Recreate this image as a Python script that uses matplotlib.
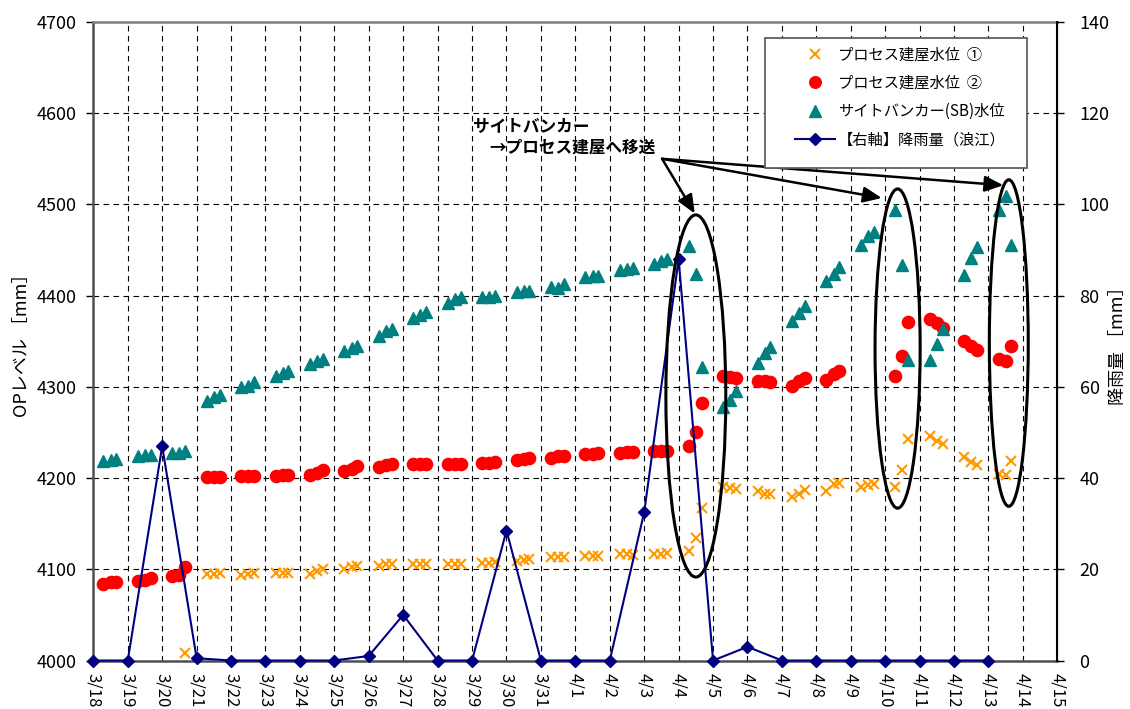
import numpy as np
import matplotlib
matplotlib.use('Agg')
import matplotlib.pyplot as plt
from matplotlib.patches import Ellipse, Rectangle

plt.rcParams['font.family'] = ['Noto Sans CJK JP', 'DejaVu Sans']

nan = np.nan

# x axis: one tick per day, 3/18 .. 4/15
DATES = ['3/18', '3/19', '3/20', '3/21', '3/22', '3/23', '3/24', '3/25',
         '3/26', '3/27', '3/28', '3/29', '3/30', '3/31', '4/1', '4/2',
         '4/3', '4/4', '4/5', '4/6', '4/7', '4/8', '4/9', '4/10', '4/11',
         '4/12', '4/13', '4/14', '4/15']

# three readings a day (hour of day), 3/18 .. 4/13
READ_HOURS = [7, 12, 16]

# プロセス建屋水位 ① [mm]
LEVEL_1 = [
    nan, nan, nan,     # 3/18
    nan, nan, nan,     # 3/19
    nan, nan, 4008,    # 3/20
    4095, 4095, 4096,  # 3/21
    4094, 4095, 4096,  # 3/22
    4096, 4096, 4096,  # 3/23
    4095, 4098, 4100,  # 3/24
    4100, 4102, 4104,  # 3/25
    4104, 4106, 4106,  # 3/26
    4106, 4106, 4106,  # 3/27
    4106, 4106, 4106,  # 3/28
    4107, 4107, 4108,  # 3/29
    4109, 4110, 4111,  # 3/30
    4113, 4114, 4114,  # 3/31
    4115, 4115, 4115,  # 4/1
    4117, 4117, 4116,  # 4/2
    4117, 4117, 4118,  # 4/3
    4120, 4134, 4167,  # 4/4
    4190, 4189, 4188,  # 4/5
    4186, 4183, 4182,  # 4/6
    4179, 4183, 4187,  # 4/7
    4186, 4193, 4195,  # 4/8
    4190, 4192, 4193,  # 4/9
    4190, 4209, 4243,  # 4/10
    4246, 4241, 4237,  # 4/11
    4223, 4218, 4214,  # 4/12
    4205, 4203, 4219,  # 4/13
]

# プロセス建屋水位 ② [mm]
LEVEL_2 = [
    4084, 4086, 4086,  # 3/18
    4087, 4088, 4090,  # 3/19
    4093, 4094, 4103,  # 3/20
    4201, 4201, 4201,  # 3/21
    4202, 4202, 4202,  # 3/22
    4202, 4203, 4203,  # 3/23
    4203, 4206, 4209,  # 3/24
    4208, 4210, 4213,  # 3/25
    4212, 4214, 4215,  # 3/26
    4215, 4215, 4215,  # 3/27
    4215, 4215, 4215,  # 3/28
    4216, 4217, 4218,  # 3/29
    4220, 4221, 4222,  # 3/30
    4222, 4224, 4224,  # 3/31
    4226, 4226, 4227,  # 4/1
    4228, 4229, 4229,  # 4/2
    4230, 4230, 4230,  # 4/3
    4235, 4250, 4282,  # 4/4
    4312, 4311, 4310,  # 4/5
    4306, 4306, 4305,  # 4/6
    4301, 4306, 4310,  # 4/7
    4307, 4314, 4317,  # 4/8
    nan, nan, nan,     # 4/9
    4312, 4334, 4371,  # 4/10
    4374, 4370, 4365,  # 4/11
    4350, 4345, 4340,  # 4/12
    4331, 4328, 4345,  # 4/13
]

# サイトバンカー(SB)水位 [mm]
LEVEL_SB = [
    4219, 4220, 4221,  # 3/18
    4224, 4225, 4225,  # 3/19
    4227, 4228, 4230,  # 3/20
    4285, 4289, 4291,  # 3/21
    4300, 4301, 4305,  # 3/22
    4312, 4315, 4317,  # 3/23
    4325, 4328, 4330,  # 3/24
    4339, 4343, 4345,  # 3/25
    4356, 4361, 4363,  # 3/26
    4375, 4379, 4382,  # 3/27
    4392, 4396, 4398,  # 3/28
    4399, 4399, 4400,  # 3/29
    4404, 4405, 4405,  # 3/30
    4410, 4408, 4413,  # 3/31
    4420, 4422, 4422,  # 4/1
    4428, 4429, 4430,  # 4/2
    4435, 4438, 4440,  # 4/3
    4454, 4424, 4322,  # 4/4
    4278, 4286, 4295,  # 4/5
    4326, 4337, 4344,  # 4/6
    4372, 4381, 4389,  # 4/7
    4416, 4424, 4431,  # 4/8
    4456, 4465, 4470,  # 4/9
    4494, 4434, 4329,  # 4/10
    4329, 4347, 4363,  # 4/11
    4423, 4441, 4453,  # 4/12
    4494, 4509, 4456,  # 4/13
]

# 降雨量（浪江） daily [mm], 3/18 .. 4/13
RAIN = [0, 0, 47, 0.5, 0, 0, 0, 0, 1, 10, 0, 0, 28.5, 0,
        0, 0, 32.5, 88, 0, 3, 0, 0, 0, 0, 0, 0, 0]

LABELS = ['プロセス建屋水位  ①', 'プロセス建屋水位  ②',
          'サイトバンカー(SB)水位', '【右軸】降雨量（浪江）']

# transfer events SB -> process building: (center day, center level, width, height)
TRANSFERS = [(17.5, 4290, 1.74, 397), (23.36, 4342, 1.31, 350), (26.59, 4348, 1.13, 358)]
ARROW_FROM = (16.52, 4550)
ARROW_TO = [(17.47, 4490), (22.9, 4507), (26.43, 4521)]

ORANGE = '#FF9900'
RED = '#FF0000'
TEAL = '#008080'
NAVY = '#000080'

n_days = len(LEVEL_1) // len(READ_HOURS)
t = np.repeat(np.arange(n_days), len(READ_HOURS)) + np.tile(READ_HOURS, n_days) / 24.0

fig = plt.figure(figsize=(11.3, 7.09), dpi=100)
ax = fig.add_axes([0.0826, 0.0684, 0.8531, 0.9006])
ax2 = ax.twinx()

h1, = ax.plot(t, LEVEL_1, linestyle='none', marker='x', color=ORANGE, markersize=7.5, markeredgewidth=1.5)
h2, = ax.plot(t, LEVEL_2, linestyle='none', marker='o', color=RED, markersize=8.8)
h3, = ax.plot(t, LEVEL_SB, linestyle='none', marker='^', color=TEAL, markersize=8.5)
h4, = ax2.plot(np.arange(len(RAIN)), RAIN, color=NAVY, linewidth=1.5, marker='D', markersize=6, clip_on=False, zorder=5)

ax.set_xlim(0, len(DATES) - 1)
ax.set_ylim(4000, 4700)
ax2.set_ylim(0, 140)
ax.set_xticks(np.arange(len(DATES)))
ax.set_xticklabels(DATES, rotation=-90, fontsize=12)
ax.set_yticks(np.arange(4000, 4701, 100))
ax2.set_yticks(np.arange(0, 141, 20))
ax.tick_params(axis='x', length=0, pad=9)
ax.tick_params(axis='y', length=5, width=1, pad=7, labelsize=13)
ax2.tick_params(axis='y', length=5, width=1, pad=11, labelsize=13)

ax.grid(True, color='black', linewidth=0.8, linestyle=(0, (5, 4)))
ax.set_axisbelow(True)

for sp in ['left', 'bottom']:
    ax.spines[sp].set_color('#505050')
    ax.spines[sp].set_linewidth(1.8)
ax.spines['top'].set_color('#808080')
ax.spines['top'].set_linewidth(1.8)
ax2.spines['right'].set_color('black')
ax2.spines['right'].set_linewidth(1.5)
ax2.spines['top'].set_visible(False)
ax2.spines['left'].set_visible(False)
ax2.spines['bottom'].set_visible(False)

ax.set_ylabel('OPレベル ［mm］', fontsize=13, va='center')
ax.yaxis.set_label_coords(-0.074, 0.5)
ax2.set_ylabel('降雨量 ［mm］', fontsize=13, va='center', rotation=90)
ax2.yaxis.set_label_coords(1.063, 0.5)

# ellipses around the transfer periods and the arrows pointing to them
for cx, cy, w, h in TRANSFERS:
    ax2.add_patch(Ellipse((cx, cy), w, h, transform=ax.transData, fill=False,
                          edgecolor='black', linewidth=2.2, zorder=6))
for xy in ARROW_TO:
    ax2.annotate('', xy=xy, xytext=ARROW_FROM, xycoords=ax.transData, textcoords=ax.transData,
                 arrowprops=dict(arrowstyle='-|>,head_length=0.7,head_width=0.3', color='black',
                                 lw=1.8, shrinkA=0, shrinkB=0, mutation_scale=16), zorder=7)
ax2.text(11.03, 4585, 'サイトバンカー', transform=ax.transData, fontsize=12,
         fontweight='bold', ha='left', va='center', zorder=7)
ax2.text(11.49, 4562, '→プロセス建屋へ移送', transform=ax.transData, fontsize=12,
         fontweight='bold', ha='left', va='center', zorder=7)

# legend box
ax2.add_patch(Rectangle((0.6968, 0.7713), 0.2718, 0.2037, transform=ax.transAxes,
                        facecolor='white', edgecolor='#606060', linewidth=1.3, zorder=8))
leg = ax2.legend([h1, h2, h3, h4], LABELS, loc='upper left', bbox_to_anchor=(0.728, 0.962),
                 frameon=False, fontsize=11, borderpad=0, borderaxespad=0,
                 handlelength=2.6, handletextpad=0.2, labelspacing=0.75, markerscale=0.95)
leg.set_zorder(9)

fig.savefig('out.png', dpi=100)
